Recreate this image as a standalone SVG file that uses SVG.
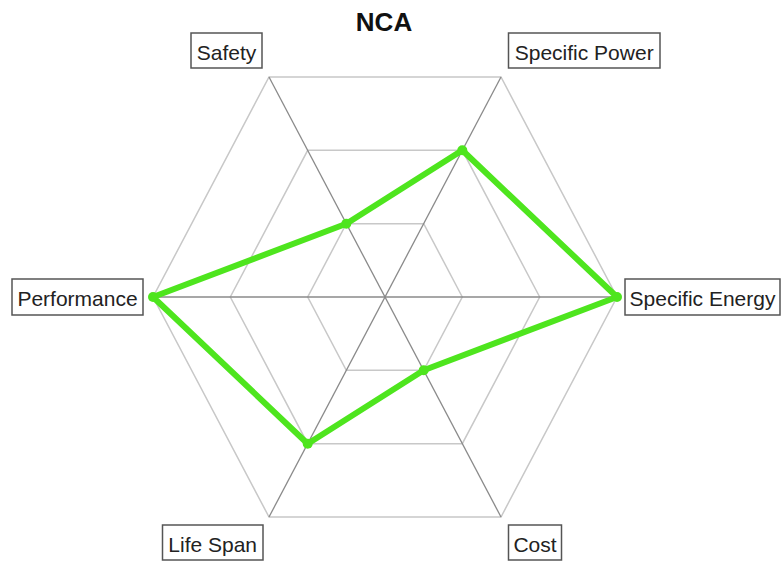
<svg xmlns="http://www.w3.org/2000/svg" width="782" height="565" viewBox="0 0 782 565">
<style>
.grid{fill:none;stroke:#c8c8c8;stroke-width:1.5}
.spoke{stroke:#8a8a8a;stroke-width:1.3}
.box{fill:#fff;stroke:#555;stroke-width:1.5}
.lbl{font-family:"Liberation Sans",Arial,sans-serif;font-size:21px;fill:#222;text-anchor:middle}
.title{font-family:"Liberation Sans",Arial,sans-serif;font-size:26px;font-weight:bold;fill:#111;text-anchor:middle}
.data{fill:none;stroke:#4ee51e;stroke-width:6;stroke-linejoin:round}
.pt{fill:#4ee51e}
</style>
<rect width="782" height="565" fill="#fff"/>
<text class="title" x="384" y="31">NCA</text>
<g id="grid">
<polygon class="grid" points="462.3,297 423.7,223.7 346.3,223.7 307.7,297 346.3,370.3 423.7,370.3"/>
<polygon class="grid" points="539.7,297 462.3,150.3 307.7,150.3 230.3,297 307.7,443.7 462.3,443.7"/>
<polygon class="grid" points="617,297 501,77 269,77 153,297 269,517 501,517"/>
</g>
<g id="connectors">
<line class="spoke" x1="153" y1="297" x2="617" y2="297"/>
<line class="spoke" x1="269" y1="77" x2="501" y2="517"/>
<line class="spoke" x1="501" y1="77" x2="269" y2="517"/>
</g>
<g id="data">
<polygon class="data" points="346.3,223.7 462.3,150.3 617,297 423.7,370.3 307.7,443.7 153,297"/>
<circle class="pt" cx="346.3" cy="223.7" r="5"/>
<circle class="pt" cx="462.3" cy="150.3" r="5"/>
<circle class="pt" cx="617" cy="297" r="5"/>
<circle class="pt" cx="423.7" cy="370.3" r="5"/>
<circle class="pt" cx="307.7" cy="443.7" r="5"/>
<circle class="pt" cx="153" cy="297" r="5"/>
</g>
<g id="safety"><rect class="box" x="191" y="33" width="71" height="35"/><text class="lbl" x="226.5" y="60">Safety</text></g>
<g id="specific-power"><rect class="box" x="508.5" y="33" width="151.5" height="35"/><text class="lbl" x="584.2" y="60">Specific Power</text></g>
<g id="specific-energy"><rect class="box" x="625" y="279" width="155" height="36"/><text class="lbl" x="702.5" y="306">Specific Energy</text></g>
<g id="performance"><rect class="box" x="12" y="279" width="131" height="36"/><text class="lbl" x="77.5" y="306">Performance</text></g>
<g id="life-span"><rect class="box" x="162.5" y="525" width="100.5" height="35"/><text class="lbl" x="212.7" y="552">Life Span</text></g>
<g id="cost"><rect class="box" x="508.5" y="525" width="53" height="35"/><text class="lbl" x="535" y="552">Cost</text></g>
</svg>
